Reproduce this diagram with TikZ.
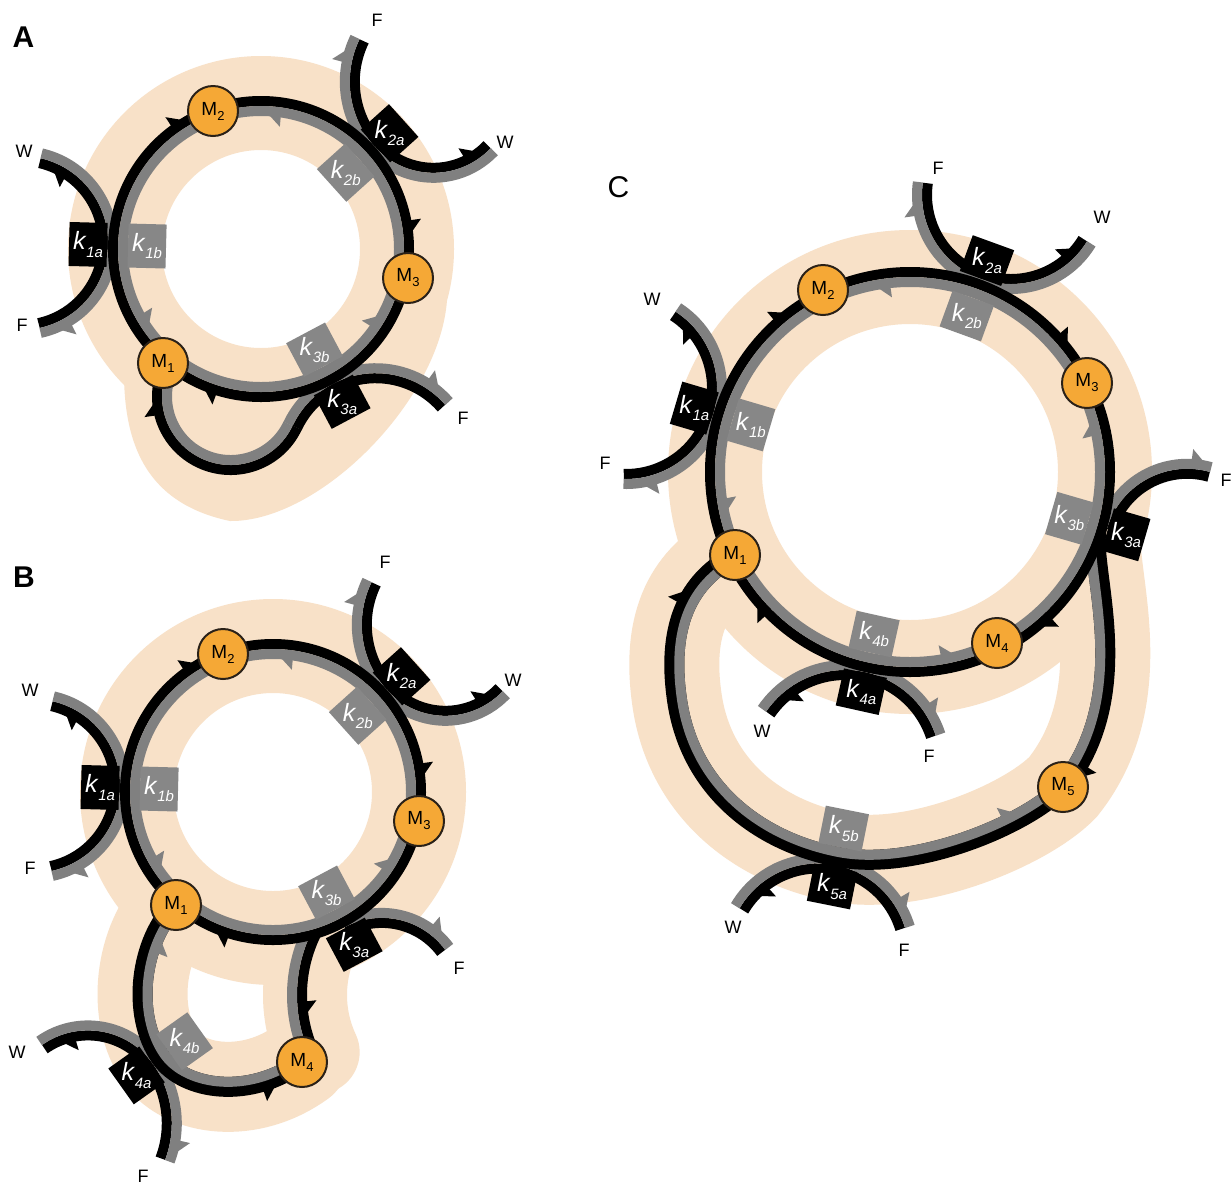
\documentclass[tikz,border=0pt]{standalone}
\usepackage{fontspec}
\setmainfont{Liberation Sans}
\usetikzlibrary{calc,decorations.markings}

\definecolor{peach}{HTML}{F8E1C8}
\definecolor{trackgray}{HTML}{808080}
\definecolor{boxgray}{HTML}{878787}
\definecolor{morange}{HTML}{F5A836}
\definecolor{rim}{HTML}{2A2118}

% one-sided arrow barb, placed by a marking
% #1 side of the band (+1 left, -1 right), #2 heading (+1 forward, -1 backward), #3 colour
\newcommand\harp[3]{%
  \fill[#3] ({(#2)*4.5pt},{(#1)*2pt}) -- ({-(#2)*4pt},{(#1)*9.8pt})
    -- ({-(#2)*4pt},{(#1)*0.5pt}) -- cycle;}

% circular double track: #1 centre, #2 radius of the black/grey seam,
% #3 start angle, #4 end angle, #5 +1 black outside / -1 black inside, #6 markings
\newcommand\arctrack[6]{%
  \pgfmathsetmacro\trkRb{#2+5*(#5)}%
  \pgfmathsetmacro\trkRg{#2-5*(#5)}%
  \draw[band,black] ($(#1)+(#3:\trkRb)$) arc[start angle=#3,end angle=#4,radius=\trkRb];
  \draw[band,trackgray] ($(#1)+(#3:\trkRg)$) arc[start angle=#3,end angle=#4,radius=\trkRg];
  \path[decorate,decoration={markings,#6}] ($(#1)+(#3:#2)$) arc[start angle=#3,end angle=#4,radius=#2];}

% free-form double track: black outside, grey on the side enclosed by the path and its chord
\newcommand\curvetrack[2]{%
  \draw[black,line width=10pt] #1;
  \begin{scope}
    \clip #1 -- cycle;
    \draw[trackgray,line width=10pt] #1;
  \end{scope}
  \path[decorate,decoration={markings,#2}] #1;}

\newcommand\kname[1]{\textit{k}\kern-0.2pt\raisebox{-0.55ex}{\fontsize{7.5}{7.5}\selectfont\itshape #1}}
\newcommand\mname[1]{M\kern0.1pt\raisebox{-0.5ex}{\fontsize{6.5}{6.5}\selectfont #1}}

% rate-constant boxes on both sides of a seam point
% #1 seam point, #2 outward angle, #3 name, #4 outer label, #5 inner label
\newcommand\kpair[5]{%
  \node[kblack,rotate={-(#2)}] (#3a) at ($(#1)+(#2:30)$) {};
  \node[ktext] (#3at) at (#3a) {\kname{#4}};
  \node[kgray,rotate={-(#2)}] (#3b) at ($(#1)+(#2:-29)$) {};
  \node[ktext] (#3bt) at (#3b) {\kname{#5}};}

\begin{document}
\begin{tikzpicture}[x=0.5pt,y=-0.5pt,
  band/.style={line width=5pt},
  halo/.style={peach,line width=47pt},
  halo2/.style={peach,line width=45pt,line cap=round},
  kbox/.style={minimum width=19pt,minimum height=22pt,inner sep=0pt,draw=none},
  kblack/.style={kbox,fill=black},
  kgray/.style={kbox,fill=boxgray},
  ktext/.style={text=white,font=\fontsize{12.5}{12.5}\selectfont,inner sep=0pt},
  mnode/.style={circle,draw=rim,line width=1pt,fill=morange,minimum size=25pt,inner sep=0pt,font=\fontsize{9.5}{9.5}\selectfont},
  flab/.style={font=\fontsize{9}{9}\selectfont,inner sep=0pt},
  panel/.style={font=\fontsize{15}{15}\selectfont\bfseries,inner sep=0pt}]

\fill[white] (0,0) rectangle (1231,1184);
\useasboundingbox (0,0) rectangle (1231,1184);

% centres of the circular pieces
\coordinate (CA) at (261,249);
\coordinate (CB) at (273,792);
\coordinate (CC) at (910,472);
\coordinate (LA) at (230.6,396.4);
\coordinate (S3A) at (375.8,465.2);
\coordinate (BrB) at (440,995);

\def\loopB{(176,905) .. controls (140,940) and (130,1015) .. (161,1058) .. controls (185,1091) and (250,1100) .. (302,1062)}
\def\loopC{(1097.3,526.4) .. controls (1086,564.5) and (1140,690) .. (1063,787) .. controls (1025,826) and (913.5,871.6) .. (838,857) .. controls (760,842) and (690,790) .. (677,700) .. controls (664,610) and (700,575) .. (735,555)}

% ---------- peach background ----------
\draw[halo] (CA) circle[radius=146];
\fill[peach] (126,330) .. controls (118,420) and (130,500) .. (230,521)
  .. controls (320,522) and (440,400) .. (447,300)
  -- ($(CA)+(15:160)$) arc[start angle=15,end angle=155,radius=160] -- cycle;

\draw[halo] (CB) circle[radius=146];
\draw[halo2] \loopB;
\draw[peach,line width=42pt,line cap=round] ($(BrB)+(155:135)$) arc[start angle=155,end angle=206,radius=135];

\draw[halo] (CC) circle[radius=195];
\draw[halo2] \loopC;

% ---------- panel A ----------
\coordinate (S1A) at (21,243);
\coordinate (S2AF) at (446.8,81.7);
\coordinate (S2AW) at (433.4,93.8);
\arctrack{S1A}{87}{-77}{77.7}{-1}{mark=at position 0.097 with {\harp{-1}{-1}{black}},mark=at position 0.905 with {\harp{1}{1}{trackgray}}}
\arctrack{S2AF}{97}{138}{206}{-1}{mark=at position 0.84 with {\harp{1}{1}{trackgray}}}
\arctrack{S2AW}{79}{43.5}{138}{-1}{mark=at position 0.15 with {\harp{-1}{-1}{black}}}
\arctrack{S3A}{92}{205.3}{319}{-1}{mark=at position 0.886 with {\harp{1}{1}{trackgray}}}
\arctrack{LA}{68.6}{25.3}{206}{1}{mark=at position 0.81 with {\harp{1}{1}{black}}}
\arctrack{CA}{143}{-180}{180}{1}{mark=at position 0.158 with {\harp{1}{1}{black}},mark=at position 0.264 with {\harp{-1}{-1}{trackgray}},mark=at position 0.478 with {\harp{1}{1}{black}},mark=at position 0.588 with {\harp{-1}{-1}{trackgray}},mark=at position 0.806 with {\harp{1}{1}{black}},mark=at position 0.911 with {\harp{-1}{-1}{trackgray}}}

\coordinate (Ak1) at ($(CA)+(181.5:143)$);
\coordinate (Ak2) at ($(CA)+(-42:143)$);
\coordinate (Ak3) at ($(CA)+(62:143)$);
\kpair{Ak1}{181.5}{Ak1}{1a}{1b}
\kpair{Ak2}{-42}{Ak2}{2a}{2b}
\kpair{Ak3}{62}{Ak3}{3a}{3b}

\node[mnode] (AM1) at (163,363) {\mname{1}};
\node[mnode] (AM2) at (213,111) {\mname{2}};
\node[mnode] (AM3) at (408,278) {\mname{3}};

\node[flab] (AW1) at (24,151) {W};
\node[flab] (AF1) at (22,325) {F};
\node[flab] (AF2) at (377,20) {F};
\node[flab] (AW2) at (505,142) {W};
\node[flab] (AF3) at (463,418) {F};
\node[panel] (labA) at (23.5,37.5) {A};

% ---------- panel B ----------
\coordinate (S1B) at (33,786);
\coordinate (S2BF) at (458.8,624.7);
\coordinate (S2BW) at (445.4,636.8);
\coordinate (S3B) at (381.8,996.8);
\coordinate (S4BW) at (88,1110);
\coordinate (S4BF) at (69.1,1123.3);
\arctrack{S1B}{87}{-77}{77.7}{-1}{mark=at position 0.097 with {\harp{-1}{-1}{black}},mark=at position 0.905 with {\harp{1}{1}{trackgray}}}
\arctrack{S2BF}{97}{138}{206}{-1}{mark=at position 0.84 with {\harp{1}{1}{trackgray}}}
\arctrack{S2BW}{79}{43.5}{138}{-1}{mark=at position 0.15 with {\harp{-1}{-1}{black}}}
\arctrack{S3B}{78.9}{242}{323.5}{-1}{mark=at position 0.84 with {\harp{1}{1}{trackgray}}}
\arctrack{S4BW}{79.6}{234.7}{324.6}{-1}{mark=at position 0.21 with {\harp{-1}{-1}{black}}}
\arctrack{S4BF}{102.7}{-35.4}{20.9}{-1}{mark=at position 0.86 with {\harp{1}{1}{trackgray}}}
\arctrack{BrB}{143}{155}{206}{-1}{mark=at position 0.37 with {\harp{-1}{-1}{black}}}
\curvetrack{\loopB}{mark=at position 0.14 with {\harp{1}{-1}{trackgray}},mark=at position 0.88 with {\harp{-1}{1}{black}}}
\arctrack{CB}{143}{-180}{180}{1}{mark=at position 0.158 with {\harp{1}{1}{black}},mark=at position 0.264 with {\harp{-1}{-1}{trackgray}},mark=at position 0.478 with {\harp{1}{1}{black}},mark=at position 0.588 with {\harp{-1}{-1}{trackgray}},mark=at position 0.806 with {\harp{1}{1}{black}},mark=at position 0.911 with {\harp{-1}{-1}{trackgray}}}

\coordinate (Bk1) at ($(CB)+(181.5:143)$);
\coordinate (Bk2) at ($(CB)+(-42:143)$);
\coordinate (Bk3) at ($(CB)+(62:143)$);
\coordinate (Bk4) at (161,1058);
\kpair{Bk1}{181.5}{Bk1}{1a}{1b}
\kpair{Bk2}{-42}{Bk2}{2a}{2b}
\kpair{Bk3}{62}{Bk3}{3a}{3b}
\kpair{Bk4}{144.6}{Bk4}{4a}{4b}

\node[mnode] (BM1) at (176,905) {\mname{1}};
\node[mnode] (BM2) at (223,654) {\mname{2}};
\node[mnode] (BM3) at (419,821) {\mname{3}};
\node[mnode] (BM4) at (302,1062) {\mname{4}};

\node[flab] (BW1) at (30,690) {W};
\node[flab] (BF1) at (30,868) {F};
\node[flab] (BF2) at (385,562) {F};
\node[flab] (BW2) at (513,680) {W};
\node[flab] (BF3) at (459,968) {F};
\node[flab] (BW4) at (17,1052) {W};
\node[flab] (BF4) at (143,1176) {F};
\node[panel] (labB) at (24,577.5) {B};

% ---------- panel C ----------
\coordinate (S1C) at (626,388);
\coordinate (S2C) at (1011,195);
\coordinate (S3C) at (1187.2,552.5);
\coordinate (S4C) at (845,765.5);
\coordinate (S5C) at (818,954.5);
\arctrack{S1C}{91}{-57}{91.5}{-1}{mark=at position 0.09 with {\harp{-1}{-1}{black}},mark=at position 0.9 with {\harp{1}{1}{trackgray}}}
\arctrack{S2C}{89}{31.3}{188}{-1}{mark=at position 0.084 with {\harp{-1}{-1}{black}},mark=at position 0.9 with {\harp{1}{1}{trackgray}}}
\arctrack{S3C}{83.7}{196.2}{285.8}{-1}{mark=at position 0.91 with {\harp{1}{1}{trackgray}}}
\arctrack{S4C}{95.5}{214.3}{341.8}{-1}{mark=at position 0.133 with {\harp{-1}{-1}{black}},mark=at position 0.89 with {\harp{1}{1}{trackgray}}}
\arctrack{S5C}{91}{210.5}{343}{-1}{mark=at position 0.13 with {\harp{-1}{-1}{black}},mark=at position 0.9 with {\harp{1}{1}{trackgray}}}
\curvetrack{\loopC}{mark=at position 0.27 with {\harp{1}{1}{black}},mark=at position 0.36 with {\harp{-1}{-1}{trackgray}},mark=at position 0.93 with {\harp{1}{1}{black}}}
\arctrack{CC}{195}{-180}{180}{1}{mark=at position 0.14 with {\harp{1}{1}{black}},mark=at position 0.2264 with {\harp{-1}{-1}{trackgray}},mark=at position 0.3875 with {\harp{1}{1}{black}},mark=at position 0.4622 with {\harp{-1}{-1}{trackgray}},mark=at position 0.634 with {\harp{1}{1}{black}},mark=at position 0.7167 with {\harp{-1}{-1}{trackgray}},mark=at position 0.8817 with {\harp{1}{1}{black}},mark=at position 0.9706 with {\harp{-1}{-1}{trackgray}}}

\coordinate (Ck1) at ($(CC)+(196.5:195)$);
\coordinate (Ck2) at ($(CC)+(-70:195)$);
\coordinate (Ck3) at ($(CC)+(16.2:195)$);
\coordinate (Ck4) at ($(CC)+(102.5:195)$);
\coordinate (Ck5) at (838,857);
\kpair{Ck1}{196.5}{Ck1}{1a}{1b}
\kpair{Ck2}{-70}{Ck2}{2a}{2b}
\kpair{Ck3}{16.2}{Ck3}{3a}{3b}
\kpair{Ck4}{102.5}{Ck4}{4a}{4b}
\kpair{Ck5}{101.3}{Ck5}{5a}{5b}

\node[mnode] (CM1) at (735,555) {\mname{1}};
\node[mnode] (CM2) at (823,290) {\mname{2}};
\node[mnode] (CM3) at (1087,383) {\mname{3}};
\node[mnode] (CM4) at (997,643) {\mname{4}};
\node[mnode] (CM5) at (1063,787) {\mname{5}};

\node[flab] (CF2) at (938,168) {F};
\node[flab] (CW2) at (1102,217) {W};
\node[flab] (CW1) at (652,299) {W};
\node[flab] (CF1) at (605,463) {F};
\node[flab] (CF3) at (1226,480) {F};
\node[flab] (CW4) at (762,731) {W};
\node[flab] (CF4) at (929,756) {F};
\node[flab] (CW5) at (733,927) {W};
\node[flab] (CF5) at (904,950) {F};
\node[panel,font=\fontsize{15}{15}\selectfont] (labC) at (618.5,187) {C};

\end{tikzpicture}
\end{document}
